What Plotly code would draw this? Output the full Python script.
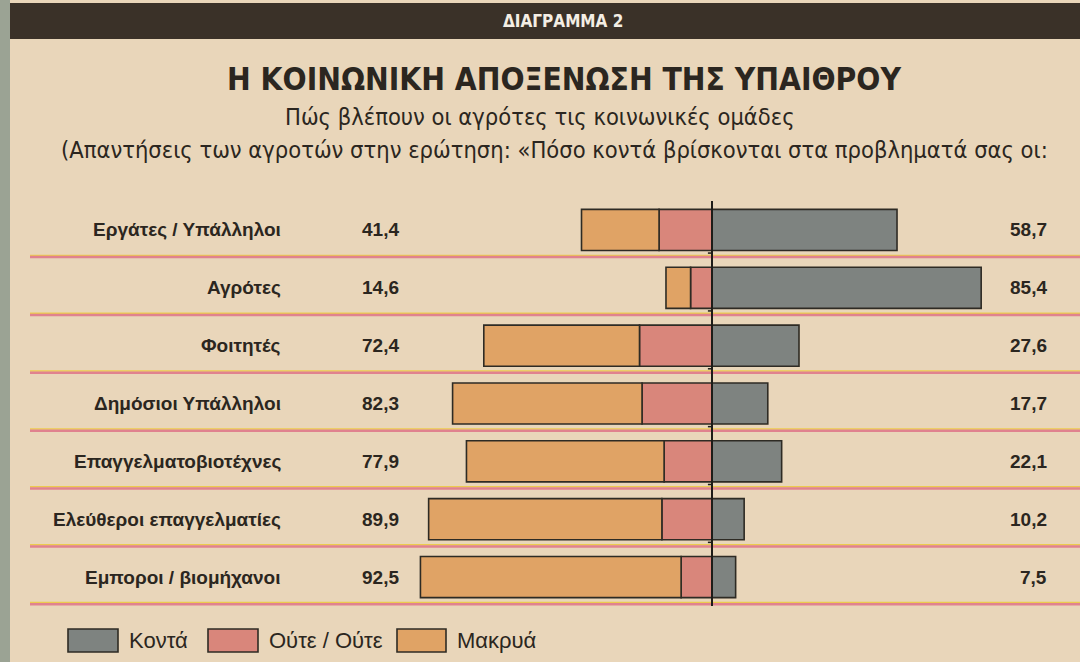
import plotly.graph_objects as go

# ---------------- data ----------------
categories = ["Εργάτες / Υπάλληλοι", "Αγρότες", "Φοιτητές", "Δημόσιοι Υπάλληλοι",
              "Επαγγελματοβιοτέχνες", "Ελεύθεροι επαγγελματίες", "Εμποροι / βιομήχανοι"]
konta = [58.7, 85.4, 27.6, 17.7, 22.1, 10.2, 7.5]          # Κοντά
oute = [16.8, 6.8, 23.0, 22.2, 15.2, 15.9, 9.8]            # Ούτε / Ούτε
makrya = [24.6, 7.8, 49.4, 60.1, 62.7, 74.0, 82.7]         # Μακρυά
far_totals = [41.4, 14.6, 72.4, 82.3, 77.9, 89.9, 92.5]    # printed left-hand totals
series_names = ["Κοντά", "Ούτε / Ούτε", "Μακρυά"]

header = "ΔΙΑΓΡΑΜΜΑ 2"
title = "Η ΚΟΙΝΩΝΙΚΗ ΑΠΟΞΕΝΩΣΗ ΤΗΣ ΥΠΑΙΘΡΟΥ"
subtitle = "Πώς βλέπουν οι αγρότες τις κοινωνικές ομάδες"
question = "(Απαντήσεις των αγροτών στην ερώτηση: «Πόσο κοντά βρίσκονται στα προβληματά σας οι:"

# ---------------- style ----------------
W, H = 1080, 662
M_T, M_B = 201, 56
PLOT_H = H - M_T - M_B
BG = "#e9d6ba"
C_KONTA = "#7e8380"
C_OUTE = "#d9867b"
C_MAKRYA = "#e0a365"
EDGE = "#2e2b24"
TXT = "#2b2620"
COND = "DejaVu Sans Condensed, Liberation Sans, sans-serif"
SANS = "Liberation Sans, Arial, sans-serif"


def px_x(p):
    return p / W


def px_y(p):
    return (H - M_B - p) / PLOT_H


fmt = lambda v: f"{v:.1f}".replace(".", ",")

fig = go.Figure()
bar_line = dict(color=EDGE, width=1.6)
fig.add_trace(go.Bar(y=categories, x=konta, orientation="h", name=series_names[0],
                     marker=dict(color=C_KONTA, line=bar_line), showlegend=False))
fig.add_trace(go.Bar(y=categories, x=[-v for v in oute], orientation="h", name=series_names[1],
                     marker=dict(color=C_OUTE, line=bar_line), showlegend=False))
fig.add_trace(go.Bar(y=categories, x=[-v for v in makrya], orientation="h", name=series_names[2],
                     marker=dict(color=C_MAKRYA, line=bar_line), showlegend=False))

shapes = []
annotations = []

# header band
shapes.append(dict(type="rect", xref="paper", yref="paper", x0=px_x(0), x1=px_x(W),
                   y0=px_y(3), y1=px_y(39), fillcolor="#3a3128", line_width=0, layer="below"))
# left edge strip
shapes.append(dict(type="rect", xref="paper", yref="paper", x0=px_x(0), x1=px_x(10),
                   y0=px_y(0), y1=px_y(H), fillcolor="#9ba394", line_width=0, layer="below"))

# separator lines
for i in range(len(categories)):
    yy = i + 0.47
    shapes.append(dict(type="line", xref="paper", yref="y", x0=px_x(30), x1=px_x(W),
                       y0=yy - 0.03, y1=yy - 0.03, line=dict(color="#eccb4e", width=1.5), layer="below"))
    shapes.append(dict(type="line", xref="paper", yref="y", x0=px_x(30), x1=px_x(W),
                       y0=yy, y1=yy, line=dict(color="#e0828f", width=2.5), layer="below"))

# central axis line
shapes.append(dict(type="line", xref="x", yref="y", x0=0, x1=0, y0=-0.6, y1=6.58,
                   line=dict(color="#1e1c18", width=2)))
for i in range(len(categories)):
    shapes.append(dict(type="line", xref="x", yref="y", x0=-1.3, x1=0, y0=i - 0.6, y1=i - 0.6,
                       line=dict(color="#1e1c18", width=1.5)))


def note(text, x, y, size, family, color=TXT, xanchor="center", yref="paper"):
    annotations.append(dict(text=text, xref="paper", yref=yref, x=x, y=y,
                            xanchor=xanchor, yanchor="middle", showarrow=False,
                            font=dict(family=family, size=size, color=color)))


note(f"<b>{header}</b>", px_x(563), px_y(21), 17, COND, color="#f4eee4")
note(f"<b>{title}</b>", px_x(564), px_y(79), 31.5, COND)
note(subtitle, px_x(540), px_y(117), 23.5, COND)
note(question, px_x(554), px_y(150), 23.5, COND)

for cat, tot, k in zip(categories, far_totals, konta):
    note(f"<b>{cat}</b>", px_x(283), cat, 19, SANS, xanchor="right", yref="y")
    note(f"<b>{fmt(tot)}</b>", px_x(401), cat, 19, SANS, xanchor="right", yref="y")
    note(f"<b>{fmt(k)}</b>", px_x(1049), cat, 19, SANS, xanchor="right", yref="y")

# manual legend
legend_items = [(series_names[0], C_KONTA, 68, 118),
                (series_names[1], C_OUTE, 208, 258),
                (series_names[2], C_MAKRYA, 397, 446)]
for name, col, a, b in legend_items:
    shapes.append(dict(type="rect", xref="paper", yref="paper", x0=px_x(a), x1=px_x(b),
                       y0=px_y(652), y1=px_y(629), fillcolor=col, line=dict(color=EDGE, width=1.6)))
    note(name, px_x(b + 9), px_y(640), 22, SANS, xanchor="left")

SCALE = 3.152  # px per percentage point
fig.update_layout(
    width=W, height=H,
    margin=dict(l=0, r=0, t=M_T, b=M_B, pad=0),
    paper_bgcolor=BG, plot_bgcolor="rgba(0,0,0,0)",
    barmode="relative", bargap=0.29,
    xaxis=dict(range=[-712 / SCALE, (W - 712) / SCALE], visible=False, fixedrange=True),
    yaxis=dict(type="category", categoryorder="array", categoryarray=categories,
               range=[6.5, -0.5], visible=False, fixedrange=True),
    shapes=shapes, annotations=annotations,
    showlegend=False,
)

fig.write_html("out.html")
